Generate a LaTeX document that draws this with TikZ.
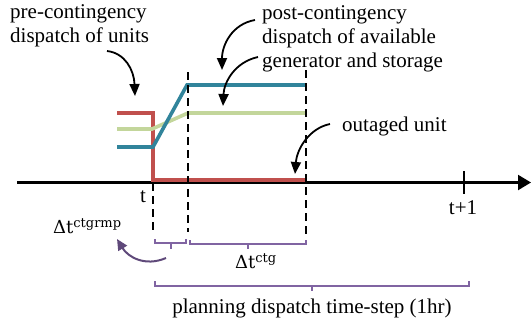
\documentclass[tikz,border=0pt]{standalone}
\usepackage{fontspec}
\setmainfont{Liberation Serif}
\newfontfamily\deltafont{DejaVu Serif}
\usetikzlibrary{arrows.meta}

\definecolor{unitred}{HTML}{C0504D}
\definecolor{unitblue}{HTML}{31849B}
\definecolor{unitgreen}{HTML}{C3D69B}
\definecolor{spanpurple}{HTML}{8064A2}
\definecolor{arrowpurple}{HTML}{5F497A}

\tikzset{
  caption/.style={font=\fontsize{21bp}{24bp}\selectfont, inner sep=0pt, align=left},
  dtlabel/.style={font=\deltafont\fontsize{18bp}{20bp}\selectfont, inner sep=0pt},
  pointer/.style={-{Triangle[length=12bp,width=10bp]}, line width=1.8bp},
  level/.style={line width=3.6bp, line join=miter},
  marker/.style={line width=1.7bp, dash pattern=on 8bp off 5bp},
  span/.style={draw=spanpurple, line width=1.3bp},
}

\newcommand{\supsmall}[1]{\raisebox{6bp}{\fontsize{13bp}{14bp}\selectfont #1}}

\begin{document}
\begin{tikzpicture}[x=1bp, y=-1bp]
  \useasboundingbox (0,0) rectangle (531,327);

  % time axis
  \coordinate (axL) at (17,182.5);
  \coordinate (axR) at (531,182.5);
  \draw[line width=2.2bp, -{Triangle[length=13bp,width=15bp]}] (axL) -- (axR);
  \coordinate (tickTop) at (464,171);
  \coordinate (tickBot) at (464,194);
  \draw[line width=2bp] (tickTop) -- (tickBot);

  % unit dispatch levels
  \draw[level, unitred] (117,113) -- (153,113) -- (153,180) -- (306,180);
  \draw[level, unitgreen] (117,129) -- (152,129) -- (188,113) -- (306,113);
  \draw[level, unitblue] (117,147) -- (153,147) -- (187,85) -- (306,85);

  % interval markers
  \coordinate (m1t) at (153,183);  \coordinate (m1b) at (153,232);
  \coordinate (m2t) at (188,72);   \coordinate (m2b) at (188,232);
  \coordinate (m3t) at (306,70);   \coordinate (m3b) at (306,234);
  \draw[marker] (m1t) -- (m1b);
  \draw[marker] (m2t) -- (m2b);
  \draw[marker] (m3t) -- (m3b);

  % brackets for the intervals
  \draw[span] (155,239) -- (155,243) -- (186,243) -- (186,239);
  \draw[span] (171,243) -- (171,249);
  \draw[span] (190,240) -- (190,244) -- (306,244) -- (306,240);
  \draw[span] (248,244) -- (248,249);
  \draw[span] (155,281) -- (155,286) -- (469,286) -- (469,281);
  \draw[span] (312,286) -- (312,291);

  % labels (a multi-line node sits on the baseline of its last line)
  \node[caption, anchor=base west] (pre) at (10,42) {pre-contingency\\dispatch of units};
  \node[caption, anchor=base west] (post) at (262,67) {post-contingency\\dispatch of available\\generator and storage};
  \node[caption, anchor=base west] (outaged) at (342,131) {outaged unit};
  \node[caption, anchor=base] (tlab) at (143,202) {t};
  \node[caption, anchor=base] (t1lab) at (463,214) {t+1};
  \node[caption, anchor=base] (plan) at (312,313) {planning dispatch time-step (1hr)};
  \node[dtlabel, anchor=base west] (ramp) at (53,233) {Δt\supsmall{ctgrmp}};
  \node[dtlabel, anchor=base west] (ctg) at (235,268) {Δt\supsmall{ctg}};

  % pointers from labels to curves
  \coordinate (a1s) at (107,51);  \coordinate (a1e) at (135,96);
  \coordinate (a2s) at (255,20);  \coordinate (a2e) at (222,70);
  \coordinate (a3s) at (258,57);  \coordinate (a3e) at (223,106);
  \coordinate (a4s) at (330,124); \coordinate (a4e) at (295,174);
  \draw[pointer] (a1s) .. controls (125,53) and (134,70) .. (a1e);
  \draw[pointer] (a2s) .. controls (232,24) and (222,45) .. (a2e);
  \draw[pointer] (a3s) .. controls (235,62) and (224,82) .. (a3e);
  \draw[pointer] (a4s) .. controls (310,128) and (297,148) .. (a4e);

  % ramp interval pointer
  \coordinate (r1s) at (166,258); \coordinate (r1e) at (117,239);
  \draw[-{Triangle[length=11bp,width=10bp]}, line width=2bp, arrowpurple]
    (r1s) .. controls (145,267) and (128,257) .. (r1e);
\end{tikzpicture}
\end{document}
